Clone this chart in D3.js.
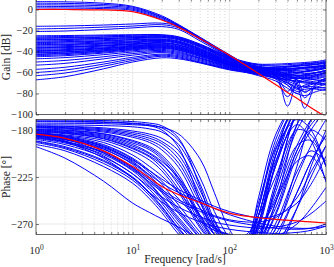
<!DOCTYPE html>
<html>
<head>
<meta charset="utf-8">
<script src="https://cdn.jsdelivr.net/npm/d3@7"></script>
<style>
  body { margin: 0; background: #fff; }
  svg { display: block; font-family: "Liberation Serif", "Times New Roman", serif; }
</style>
</head>
<body>
<svg width="334" height="267"></svg>
<script>
// ---- data ----
var gainFreq = [1, 2, 5, 10, 20, 30, 50, 100, 150, 200, 300, 400, 500, 600, 800, 1000];
var gainNominal = [0, 0, -0.4, -2, -10, -17, -28, -43.5, -53.5, -61, -71.5, -79, -84.5, -89.5, -97, -102.5];
var gainCurves = [
  [7.5, 7.3, 6, 3, -6, -14.5, -26.5, -43, -52, -55, -56, -56, -55.5, -55, -54, -53],
  [6, 5.8, 4.8, 2.2, -7, -15, -27, -43.5, -52.5, -56, -58, -58, -57, -56, -55, -54],
  [4.5, 4.3, 3.5, 1.2, -7.5, -15.5, -27.5, -44, -53, -57, -60, -62, -61, -59, -57, -56],
  [3, 2.8, 2, 0.2, -8.5, -16, -28, -44, -53, -56, -57, -57, -56.5, -56, -55, -54],
  [1.5, 1.4, 0.8, -0.8, -9.5, -16.5, -28, -44, -52.5, -55, -55, -54.5, -54, -53.5, -52.5, -51],
  [-16, -15.7, -14.8, -13.8, -13, -16, -27, -44, -52, -55, -55, -54, -53, -52, -51, -50],
  [-18.5, -18, -16.8, -15.8, -14.5, -17.5, -28.5, -45, -53, -55.5, -56, -55, -54, -53, -52, -51],
  [-21, -20.5, -19, -17.5, -16.3, -19, -30, -45.5, -53, -56, -57, -57, -56, -55, -54, -52],
  [-25, -24.8, -24.3, -24, -24, -26, -33, -45, -50, -52, -52, -51.5, -51, -50.5, -49.5, -48],
  [-26, -25.7, -25, -24.6, -24.5, -26.5, -33.5, -45.5, -50.5, -52.5, -53, -52.5, -52, -51.5, -50.5, -49],
  [-27, -26.7, -26, -25.5, -25, -27, -34, -46, -51, -53, -54, -54, -53.5, -53, -52, -50],
  [-27.5, -27.2, -26.5, -26, -25.5, -27.5, -34.5, -46.5, -51.5, -54, -56, -58, -60, -59, -57, -55],
  [-28.5, -28.2, -27.5, -26.8, -26, -28, -35, -47, -52, -55, -58, -62, -66, -63, -60, -58],
  [-29, -28.6, -27.8, -27, -26.5, -28.5, -35.5, -47, -52, -54.5, -56, -56.5, -56, -55.5, -54.5, -53],
  [-30, -29.6, -28.7, -27.8, -27, -29, -36, -47.5, -52.5, -55, -57, -58, -58, -57.5, -56, -55],
  [-31, -30.6, -29.6, -28.6, -28, -30, -37, -48, -53, -56, -60, -66, -64, -62, -60, -58],
  [-31.5, -31.1, -30.1, -29, -28.5, -30.5, -37.5, -48.5, -53, -56, -59, -61, -63, -65, -63, -60],
  [-32.5, -32, -31, -30, -29, -31, -38, -49, -53.5, -56.5, -62, -78, -66, -64, -62, -60],
  [-33.5, -33, -31.8, -30.6, -29.5, -31.5, -38.5, -49.5, -54, -57, -61, -64, -67, -79, -70, -65],
  [-34, -33.5, -32.3, -31.2, -30, -32, -39, -49.5, -54, -56.5, -58, -59, -59.5, -59, -57.5, -56],
  [-35, -34.4, -33, -31.8, -30.5, -32.5, -39.5, -50, -54.5, -57, -59, -60, -60, -59.5, -58, -56],
  [-36, -35.4, -34, -32.6, -31.5, -33.5, -40, -50.5, -55, -58, -62, -92, -70, -66, -64, -62],
  [-36.5, -35.8, -34.4, -33, -32, -34, -40.5, -50.5, -55, -57.5, -60, -63, -65, -66, -65, -63],
  [-37, -36.3, -34.8, -33.4, -32, -34, -41, -51, -55.5, -58.5, -62, -66, -72, -94, -70, -66],
  [-38, -37.3, -35.7, -34.2, -33, -35, -41.5, -51.5, -56, -58, -60, -61, -61.5, -61, -60, -58],
  [-39, -38.2, -36.5, -34.8, -33.5, -35.5, -42, -51.5, -56, -58, -61, -64, -67, -69, -68, -66],
  [-39.5, -38.7, -37, -35.3, -34, -36, -42.5, -52, -56, -58.5, -63, -72, -80, -74, -70, -67],
  [-40, -39.2, -37.4, -35.7, -34.5, -36.5, -42.5, -52, -56, -58.5, -61, -62.5, -63, -62, -60.5, -59],
  [-41, -40.2, -38.2, -36.3, -35, -37, -43, -52.5, -56.5, -59, -62, -65, -66, -65, -63, -61],
  [-41.5, -40.6, -38.6, -36.7, -35.5, -37.5, -43.5, -52.5, -56.5, -59, -63, -69, -75, -78, -74, -71],
  [-42.5, -41.5, -39.3, -37.3, -36, -38, -44, -53, -57, -60, -66, -83, -70, -68, -66, -64],
  [-43, -42, -39.8, -37.8, -36.5, -38.5, -44.5, -53, -57, -59.5, -62, -64, -65, -66, -67, -68],
  [-44, -43, -40.6, -38.4, -37, -39, -45, -53.5, -57.5, -60, -63, -66, -70, -84, -72, -70],
  [-45, -44, -41.5, -39.3, -38, -40, -46, -54, -58, -60.5, -64, -68, -72, -74, -76, -77],
  [-47, -45.8, -43, -40.5, -39, -41, -46.5, -54.5, -58, -61, -65, -70, -76, -72, -70, -68],
  [-50, -48.5, -45, -42, -40, -42, -47, -55, -58.5, -60, -62, -63, -63.5, -63, -62, -60],
  [-53, -51.3, -47, -43.5, -41, -43, -48, -55.5, -59, -61, -64, -67, -69, -70, -71, -72],
  [-57, -55, -50, -45.5, -42.5, -44, -49, -56, -59, -61.5, -65, -70, -74, -73, -74, -75],
  [-60, -57.7, -52, -47, -43.5, -45, -50, -56.5, -59.5, -62, -66, -72, -78, -76, -75, -74],
  [-63, -60.5, -54, -48.5, -44.5, -46, -50.5, -57, -60, -63, -68, -75, -80, -82, -78, -76],
  [-67, -64, -56.5, -50, -46, -47, -51, -57.5, -60, -62, -65, -67, -68, -69, -70, -71]
];

var phaseFreq = [1, 2, 5, 10, 15, 20, 30, 50, 70, 100, 150, 200, 300, 500, 700, 1000];
var phaseNominal = [-184, -188, -200, -215, -226, -234, -242, -249.5, -255, -259.5, -262.5, -264, -265.5, -267, -268, -269];
var phaseCurves = [
  [-170.5, -170.6, -171, -172, -173.5, -176, -188, -235, -272, -292, -296, -285, -235, -160, -140, -130],
  [-172, -172.2, -172.8, -174, -176, -180, -197, -248, -280, -295, -293, -270, -205, -150, -140, -130],
  [-173.5, -173.6, -174, -175, -176, -177.5, -184, -208, -240, -275, -295, -295, -275, -215, -170, -145],
  [-175, -175.2, -175.8, -177, -179, -182, -194, -232, -266, -288, -298, -290, -250, -175, -150, -140],
  [-171.5, -171.7, -172.3, -173.5, -175, -178, -190, -226, -258, -283, -298, -302, -295, -255, -215, -180],
  [-176, -176.5, -178, -181, -184, -188, -200, -238, -268, -288, -295, -282, -230, -165, -150, -140],
  [-176.5, -177, -179, -182.5, -186, -191, -204, -243, -271, -290, -296, -290, -260, -200, -175, -160],
  [-177, -177.8, -180, -184, -188, -193, -208, -247, -274, -291, -293, -272, -212, -158, -145, -135],
  [-177.5, -178.3, -181, -185.5, -190, -196, -212, -250, -276, -292, -298, -295, -275, -225, -195, -170],
  [-178, -179, -182, -187, -192, -199, -216, -255, -280, -294, -290, -262, -200, -155, -145, -135],
  [-179, -180, -183.5, -190, -196, -204, -223, -262, -284, -295, -288, -255, -195, -155, -145, -135],
  [-179.5, -180.5, -184, -191, -197.5, -206, -226, -264, -285, -296, -300, -300, -290, -255, -225, -195],
  [-180, -181.3, -185, -192.5, -199, -208, -228, -266, -286, -296, -292, -268, -215, -165, -150, -140],
  [-181, -182.5, -187, -195.5, -203, -212, -233, -269, -288, -297, -297, -282, -240, -180, -160, -145],
  [-182, -183.6, -188.5, -198, -206, -216, -237, -272, -289, -297, -299, -292, -262, -205, -180, -160],
  [-183, -184.8, -190, -200, -209, -219, -240, -274, -290, -298, -300, -297, -280, -240, -210, -185],
  [-184, -187, -195, -208, -221, -232, -252, -278, -292, -298, -296, -285, -255, -200, -180, -190],
  [-185, -188, -196, -210, -224, -236, -256, -281, -295, -300, -292, -262, -205, -160, -150, -140],
  [-185.5, -189, -197, -211, -226, -238, -258, -283, -296, -298, -285, -250, -198, -170, -180, -215],
  [-186, -189.5, -198.5, -213, -228, -240, -260, -284, -297, -302, -298, -275, -215, -165, -150, -140],
  [-187, -191, -201, -216, -231, -244, -264, -287, -299, -303, -300, -285, -235, -175, -155, -140],
  [-187.5, -191.5, -202, -217, -232, -245, -266, -289, -300, -303, -302, -295, -270, -220, -200, -210],
  [-188, -192.5, -203.5, -219, -234, -247, -268, -290, -301, -304, -294, -255, -190, -150, -140, -130],
  [-189, -194, -206, -222, -237, -250, -271, -292, -303, -305, -290, -245, -185, -150, -140, -130],
  [-190.5, -196, -209, -225, -240, -253, -274, -295, -305, -306, -300, -270, -205, -160, -145, -135],
  [-191, -197, -210, -226, -241, -254, -275, -296, -305, -307, -296, -262, -210, -175, -190, -230],
  [-192, -198, -212, -228, -243, -256, -277, -297, -306, -308, -305, -290, -250, -195, -170, -150],
  [-194, -200, -215, -231, -246, -259, -280, -300, -308, -310, -310, -305, -285, -240, -210, -185],
  [-183.5, -187, -198, -212, -223, -231, -240, -249, -255, -261, -266, -269, -272, -274, -274, -272],
  [-184.5, -189, -202, -218, -230, -239, -249, -258, -263, -267, -270, -272, -274, -275, -274, -270],
  [-185.5, -190.5, -205, -222, -235, -244, -254, -263, -268, -271, -273, -274, -273, -268, -260, -248],
  [-186.5, -191.5, -207, -226, -240, -249, -259, -268, -272, -275, -277, -278, -279, -278, -276, -272],
  [-182.5, -186, -196, -209, -219, -227, -237, -247, -253, -258, -262, -264, -262, -250, -232, -205],
  [-184, -188, -200, -216, -228, -237, -247, -256, -262, -266, -268, -268, -264, -245, -220, -195],
  [-183, -186, -194, -207, -219, -229, -246, -267, -276, -280, -283, -284, -282, -270, -255, -235],
  [-180.5, -182, -186, -194, -202, -210, -226, -255, -272, -282, -280, -262, -225, -180, -185, -215],
  [-183, -185.5, -192, -204, -215, -224, -240, -262, -274, -280, -283, -275, -245, -195, -190, -215],
  [-181.5, -183, -188, -197, -205, -213, -230, -262, -280, -290, -290, -278, -248, -210, -205, -228],
  [-196, -207, -229, -250, -259, -265, -273, -285, -292, -296, -298, -298, -296, -292, -285, -280]
];

var gainTicks = [0, -20, -40, -60, -80, -100];
var phaseTicks = [-180, -225, -270];

// ---- layout ----
var left = 36, right = 326;
var svg = d3.select("svg");
var axisColor = "#262626";

var x = d3.scaleLog().domain([1, 1000]).range([left, right]);
var yGain = d3.scaleLinear().domain([-100, 10]).range([114.5, -1]);
var yPhase = d3.scaleLinear().domain([-280, -170]).range([234.5, 119.5]);

function panel(id, y, ticks, freq, curves, nominal, showX) {
  var top = y.range()[1], bottom = y.range()[0];
  var g = svg.append("g");

  svg.append("clipPath").attr("id", id)
    .append("rect")
      .attr("x", left).attr("y", top)
      .attr("width", right - left).attr("height", bottom - top);

  // grid
  var xt = x.ticks();
  g.selectAll(".vgrid")
    .data(xt.filter(d => d > 1 && d < 1000))
    .enter().append("line")
      .attr("x1", d => x(d)).attr("x2", d => x(d))
      .attr("y1", top).attr("y2", bottom)
      .attr("stroke", d => Math.log10(d) % 1 === 0 ? "#e3e3e3" : "#c8c8c8")
      .attr("stroke-width", 0.7)
      .attr("stroke-dasharray", d => Math.log10(d) % 1 === 0 ? null : "1,2");
  g.selectAll(".hgrid")
    .data(ticks)
    .enter().append("line")
      .attr("x1", left).attr("x2", right)
      .attr("y1", d => y(d)).attr("y2", d => y(d))
      .attr("stroke", "#e3e3e3")
      .attr("stroke-width", 0.8);

  var line = d3.line()
    .x((d, i) => x(freq[i]))
    .y(d => y(d))
    .curve(d3.curveCatmullRom.alpha(0.5));

  var plot = g.append("g").attr("clip-path", "url(#" + id + ")");
  plot.selectAll(".blue")
    .data(curves)
    .enter().append("path")
      .attr("d", line)
      .attr("fill", "none")
      .attr("stroke", "#0000ff")
      .attr("stroke-width", 1);
  plot.append("path")
    .attr("d", line(nominal))
    .attr("fill", "none")
    .attr("stroke", "#ff0000")
    .attr("stroke-width", 1.2);

  // axes
  var ya = g.append("g")
    .attr("transform", "translate(" + left + ",0)")
    .call(d3.axisLeft(y).tickValues(ticks).tickSize(-3).tickPadding(3).tickFormat(d3.format("d")));
  g.append("g")
    .attr("transform", "translate(" + right + ",0)")
    .call(d3.axisRight(y).tickValues(ticks).tickSize(-3).tickFormat(""));
  g.append("g")
    .attr("transform", "translate(0," + top + ")")
    .call(d3.axisTop(x).tickSize(-2.5).tickFormat(""));
  var xa = g.append("g")
    .attr("transform", "translate(0," + bottom + ")")
    .call(d3.axisBottom(x).tickSize(-2.5).tickPadding(7).tickFormat(""));

  g.selectAll(".domain").remove();
  g.selectAll(".tick line").attr("stroke", axisColor).attr("stroke-width", 0.6);
  ya.selectAll("text")
    .attr("font-family", "Liberation Serif, Times New Roman, serif")
    .attr("font-size", 10.5)
    .attr("fill", axisColor);

  if (showX) {
    xa.selectAll(".tick")
      .filter(d => Math.log10(d) % 1 === 0)
      .select("text")
        .attr("font-family", "Liberation Serif, Times New Roman, serif")
        .attr("font-size", 10.5)
        .attr("fill", axisColor)
        .attr("dy", "1.2em")
        .each(function(d) {
          var t = d3.select(this);
          t.append("tspan").text("10");
          t.append("tspan")
            .attr("dy", -4.5)
            .attr("font-size", 7.5)
            .text(Math.round(Math.log10(d)));
        });
  }

  g.append("rect")
    .attr("x", left).attr("y", top)
    .attr("width", right - left).attr("height", bottom - top)
    .attr("fill", "none")
    .attr("stroke", axisColor)
    .attr("stroke-width", 0.7);
}

panel("clipGain", yGain, gainTicks, gainFreq, gainCurves, gainNominal, false);
panel("clipPhase", yPhase, phaseTicks, phaseFreq, phaseCurves, phaseNominal, true);

// axis titles
svg.append("text")
  .attr("transform", "translate(10," + 57 + ") rotate(-90)")
  .attr("text-anchor", "middle")
  .attr("font-size", 11.5)
  .attr("fill", axisColor)
  .text("Gain [dB]");

svg.append("text")
  .attr("transform", "translate(10," + 177 + ") rotate(-90)")
  .attr("text-anchor", "middle")
  .attr("font-size", 11.5)
  .attr("fill", axisColor)
  .text("Phase [°]");

svg.append("text")
  .attr("x", (left + right) / 2 + 4)
  .attr("y", 263)
  .attr("text-anchor", "middle")
  .attr("font-size", 11.5)
  .attr("fill", axisColor)
  .text("Frequency [rad/s]");
</script>
</body>
</html>
